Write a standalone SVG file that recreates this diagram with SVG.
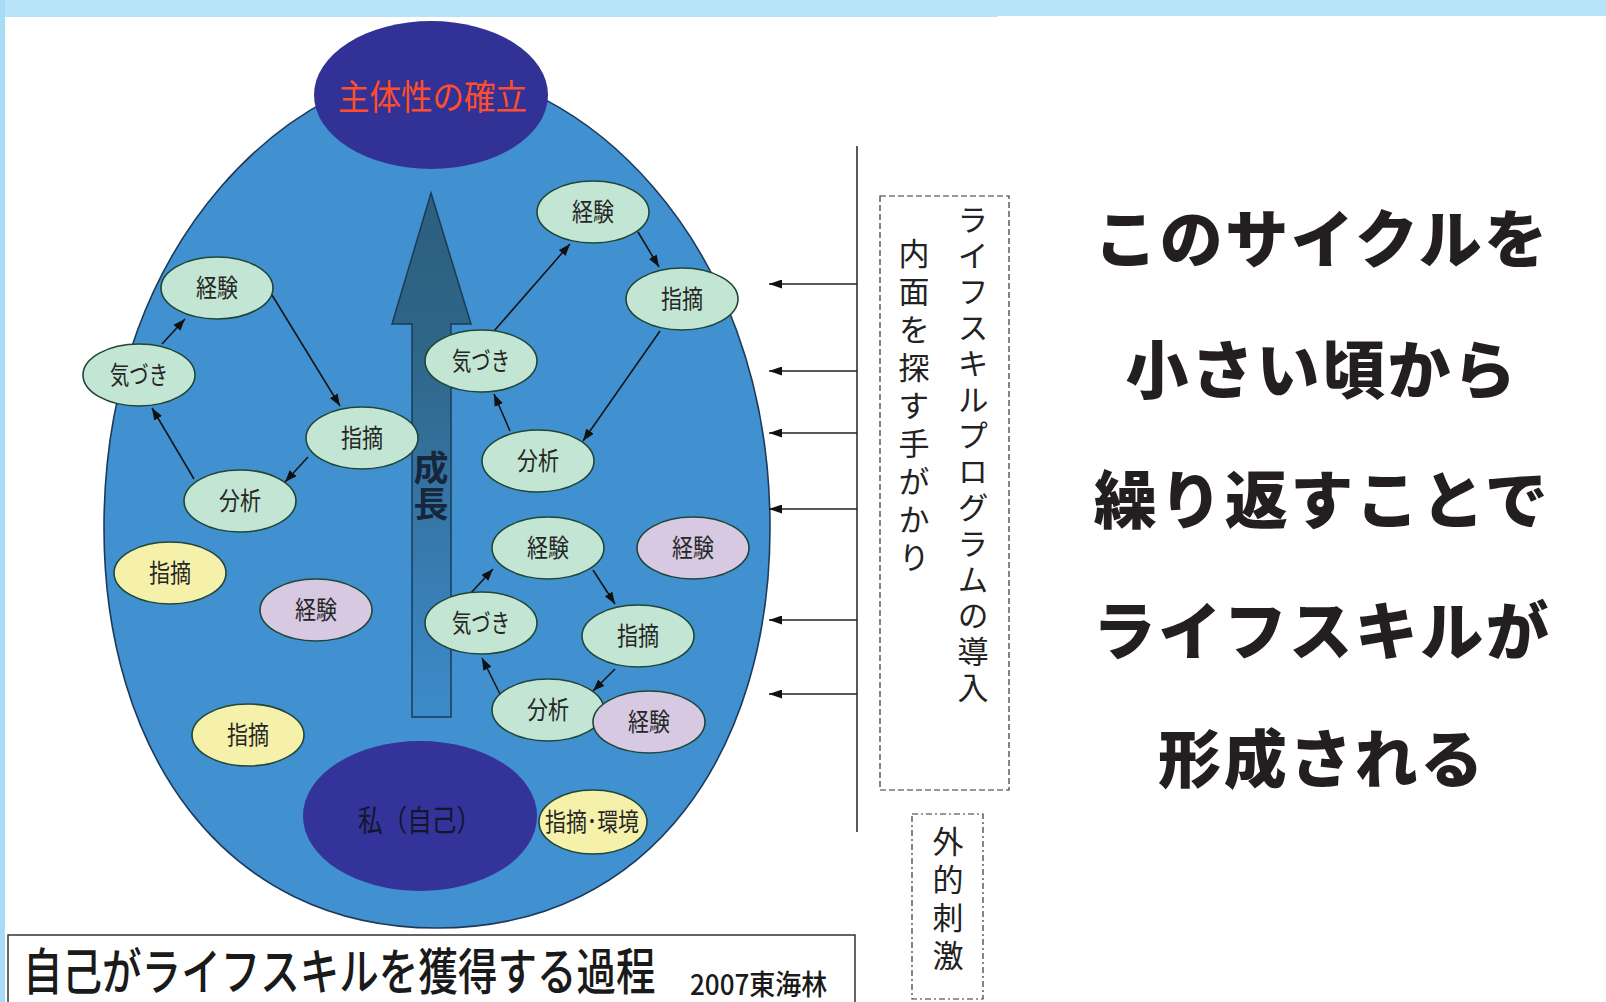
<svg xmlns="http://www.w3.org/2000/svg" width="1606" height="1002" viewBox="0 0 1606 1002">
<defs>
<style>
.jp{font-family:"Noto Sans CJK JP","Noto Sans CJK SC",sans-serif;}
.node ellipse{stroke:#1f4636;stroke-width:1.6;}
.g{fill:#c3e5d3;}
.y{fill:#f5f1ab;}
.p{fill:#d6c9e1;}
.lbl{font-family:"Noto Sans CJK JP",sans-serif;font-size:25px;fill:#262626;text-anchor:middle;}
.con line{stroke:#151515;stroke-width:1.6;marker-end:url(#ah);}
.ext line{stroke:#222;stroke-width:1.5;marker-end:url(#ah2);}
.vt{font-family:"Noto Sans CJK JP",sans-serif;writing-mode:vertical-rl;fill:#222;font-size:31px;letter-spacing:5px;}
.big{font-family:"Noto Sans CJK JP",sans-serif;font-weight:900;font-size:63px;fill:#231f20;text-anchor:middle;letter-spacing:2.5px;}
</style>
<marker id="ah" viewBox="0 0 12 9" refX="12" refY="4.5" markerWidth="12" markerHeight="9" markerUnits="userSpaceOnUse" orient="auto"><path d="M0,0 L12,4.5 L0,9 z" fill="#111"/></marker>
<marker id="ah2" viewBox="0 0 13 9" refX="13" refY="4.5" markerWidth="13" markerHeight="9" markerUnits="userSpaceOnUse" orient="auto"><path d="M0,0 L13,4.5 L0,9 z" fill="#111"/></marker>
<linearGradient id="arrowGrad" x1="0" y1="193" x2="0" y2="717" gradientUnits="userSpaceOnUse">
<stop offset="0" stop-color="#2c5f7e"/>
<stop offset="0.3" stop-color="#2f6688"/>
<stop offset="1" stop-color="#3d8bcb"/>
</linearGradient>
</defs>

<!-- page background -->
<rect x="0" y="0" width="1606" height="1002" fill="#ffffff"/>
<rect x="0" y="0" width="1606" height="16" fill="#b7e4f8"/>
<rect x="0" y="0" width="998" height="17" fill="#b7e4f8"/>
<rect x="0" y="0" width="5" height="1002" fill="#a8dbf6"/>

<!-- big field -->
<g id="field">
<path d="M437,70 C570,70 770,230 770,528 C770,748 653,928 437,928 C221,928 104,748 104,528 C104,230 304,70 437,70 Z" fill="#4191d1" stroke="#1d3a5a" stroke-width="1.6"/>
</g>

<!-- growth arrow -->
<g id="growth">
<polygon points="431,193 471,324 451,324 451,717 412,717 412,324 392,324" fill="url(#arrowGrad)" stroke="#1d3a55" stroke-width="1.5"/>
<text x="431" y="450" class="jp" style="writing-mode:vertical-rl;font-size:35px;font-weight:700;fill:#17263d;letter-spacing:1px;">成長</text>
</g>

<!-- top goal -->
<g id="goal">
<ellipse cx="431" cy="95" rx="117" ry="74" fill="#323296"/>
<text x="338" y="110" class="jp" style="font-size:35px;fill:#ff4d2c;" textLength="189" lengthAdjust="spacingAndGlyphs">主体性の確立</text>
</g>

<!-- self -->
<g id="self">
<ellipse cx="420" cy="816" rx="117" ry="75" fill="#333399"/>
<text x="358" y="831" class="jp" style="font-size:30px;fill:#15152e;" textLength="123" lengthAdjust="spacingAndGlyphs">私（自己）</text>
</g>

<!-- connectors -->
<g id="connectors">
<g class="con">
<line x1="162" y1="344" x2="185" y2="319"/>
<line x1="272" y1="295" x2="340" y2="406"/>
<line x1="308" y1="457" x2="285" y2="482"/>
<line x1="194" y1="479" x2="152" y2="408"/>
<line x1="494" y1="331" x2="570" y2="244"/>
<line x1="638" y1="232" x2="659" y2="267"/>
<line x1="660" y1="331" x2="583" y2="441"/>
<line x1="510" y1="431" x2="494" y2="394"/>
<line x1="470" y1="594" x2="493" y2="569"/>
<line x1="593" y1="570" x2="615" y2="604"/>
<line x1="615" y1="669" x2="593" y2="691"/>
<line x1="500" y1="694" x2="482" y2="658"/>
</g>
<line x1="857" y1="146" x2="857" y2="832" stroke="#222" stroke-width="1.5"/>
<g class="ext">
<line x1="857" y1="284" x2="769" y2="284"/>
<line x1="857" y1="371" x2="769" y2="371"/>
<line x1="857" y1="433" x2="769" y2="433"/>
<line x1="857" y1="509" x2="769" y2="509"/>
<line x1="857" y1="620" x2="769" y2="620"/>
<line x1="857" y1="694" x2="769" y2="694"/>
</g>
</g>

<!-- left cycle -->
<g id="l-keiken" class="node"><ellipse class="g" cx="217" cy="288" rx="56" ry="31"/><text class="lbl" x="217" y="297" textLength="42" lengthAdjust="spacingAndGlyphs">経験</text></g>
<g id="l-kizuki" class="node"><ellipse class="g" cx="139" cy="375" rx="56" ry="31"/><text class="lbl" x="139" y="384" textLength="58" lengthAdjust="spacingAndGlyphs">気づき</text></g>
<g id="l-shiteki" class="node"><ellipse class="g" cx="362" cy="438" rx="56" ry="31"/><text class="lbl" x="362" y="447" textLength="42" lengthAdjust="spacingAndGlyphs">指摘</text></g>
<g id="l-bunseki" class="node"><ellipse class="g" cx="240" cy="501" rx="56" ry="31"/><text class="lbl" x="240" y="510" textLength="42" lengthAdjust="spacingAndGlyphs">分析</text></g>

<!-- right top cycle -->
<g id="rt-keiken" class="node"><ellipse class="g" cx="593" cy="212" rx="56" ry="31"/><text class="lbl" x="593" y="221" textLength="42" lengthAdjust="spacingAndGlyphs">経験</text></g>
<g id="rt-shiteki" class="node"><ellipse class="g" cx="682" cy="299" rx="56" ry="31"/><text class="lbl" x="682" y="308" textLength="42" lengthAdjust="spacingAndGlyphs">指摘</text></g>
<g id="rt-kizuki" class="node"><ellipse class="g" cx="481" cy="361" rx="56" ry="31"/><text class="lbl" x="481" y="370" textLength="58" lengthAdjust="spacingAndGlyphs">気づき</text></g>
<g id="rt-bunseki" class="node"><ellipse class="g" cx="538" cy="461" rx="56" ry="31"/><text class="lbl" x="538" y="470" textLength="42" lengthAdjust="spacingAndGlyphs">分析</text></g>

<!-- right bottom cycle -->
<g id="rb-keiken" class="node"><ellipse class="g" cx="548" cy="548" rx="56" ry="31"/><text class="lbl" x="548" y="557" textLength="42" lengthAdjust="spacingAndGlyphs">経験</text></g>
<g id="rb-shiteki" class="node"><ellipse class="g" cx="638" cy="636" rx="56" ry="31"/><text class="lbl" x="638" y="645" textLength="42" lengthAdjust="spacingAndGlyphs">指摘</text></g>
<g id="rb-kizuki" class="node"><ellipse class="g" cx="481" cy="623" rx="56" ry="31"/><text class="lbl" x="481" y="632" textLength="58" lengthAdjust="spacingAndGlyphs">気づき</text></g>
<g id="rb-bunseki" class="node"><ellipse class="g" cx="548" cy="710" rx="56" ry="31"/><text class="lbl" x="548" y="719" textLength="42" lengthAdjust="spacingAndGlyphs">分析</text></g>

<!-- loose nodes -->
<g id="y-shiteki1" class="node"><ellipse class="y" cx="170" cy="573" rx="56" ry="31"/><text class="lbl" x="170" y="582" textLength="42" lengthAdjust="spacingAndGlyphs">指摘</text></g>
<g id="p-keiken1" class="node"><ellipse class="p" cx="316" cy="610" rx="56" ry="31"/><text class="lbl" x="316" y="619" textLength="42" lengthAdjust="spacingAndGlyphs">経験</text></g>
<g id="p-keiken2" class="node"><ellipse class="p" cx="693" cy="548" rx="56" ry="31"/><text class="lbl" x="693" y="557" textLength="42" lengthAdjust="spacingAndGlyphs">経験</text></g>
<g id="y-shiteki2" class="node"><ellipse class="y" cx="248" cy="735" rx="56" ry="31"/><text class="lbl" x="248" y="744" textLength="42" lengthAdjust="spacingAndGlyphs">指摘</text></g>
<g id="p-keiken3" class="node"><ellipse class="p" cx="649" cy="722" rx="56" ry="31"/><text class="lbl" x="649" y="731" textLength="42" lengthAdjust="spacingAndGlyphs">経験</text></g>
<g id="y-kankyo" class="node"><ellipse class="y" cx="593" cy="822" rx="54" ry="32"/><text class="lbl" x="592" y="831" textLength="94" lengthAdjust="spacingAndGlyphs">指摘･環境</text></g>

<!-- program box -->
<g id="program">
<rect x="880" y="196" width="129" height="594" fill="none" stroke="#333" stroke-width="1.2" stroke-dasharray="6 3"/>
<text class="vt" x="973" y="204">ライフスキルプログラムの導入</text>
<text class="vt" x="914" y="238" style="letter-spacing:7px;">内面を探す手がかり</text>
</g>

<!-- external stimulus box -->
<g id="external">
<rect x="912" y="814" width="71" height="185" fill="none" stroke="#333" stroke-width="1.2" stroke-dasharray="6 3 2 3"/>
<text class="vt" x="948" y="826" style="letter-spacing:7px;">外的刺激</text>
</g>

<!-- title -->
<g id="title">
<rect x="8" y="935" width="847" height="80" fill="#fff" stroke="#333" stroke-width="1.5"/>
<text transform="translate(23,990) scale(0.791,1)" x="0" y="0" class="jp" style="font-size:50px;fill:#1a1a1a;font-weight:500;">自己がライフスキルを獲得する過程</text>
<text transform="translate(690,995) scale(0.93,1)" x="0" y="0" class="jp" style="font-size:28px;fill:#1a1a1a;font-weight:500;">2007東海林</text>
</g>

<!-- message -->
<g id="message">
<text class="big" x="1322" y="262">このサイクルを</text>
<text class="big" x="1322" y="393">小さい頃から</text>
<text class="big" x="1322" y="523">繰り返すことで</text>
<text class="big" x="1322" y="654">ライフスキルが</text>
<text class="big" x="1322" y="782">形成される</text>
</g>
</svg>
